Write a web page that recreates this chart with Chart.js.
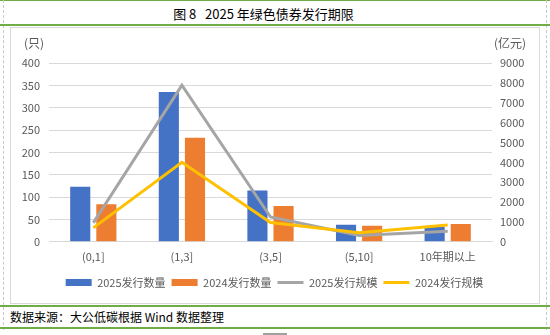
<!DOCTYPE html>
<html>
<head>
<meta charset="utf-8">
<script src="https://cdn.jsdelivr.net/npm/chart.js@4.4.1/dist/chart.umd.min.js"></script>
<style>
  html, body { margin: 0; padding: 0; background: #fff; }
  body { width: 550px; height: 335px; position: relative; overflow: hidden;
         font-family: "Noto Sans CJK SC", "Noto Sans", sans-serif; }
  .abs { position: absolute; }
  .green { background: #70ad47; left: 0; width: 550px; }
  .dash { top: 0; height: 330px; width: 0; border-left: 1px dashed #c8c8c8; }
  #title { left: 0; width: 527px; top: 4px; text-align: center; font-size: 13px; color: #000; }
  #box { left: 10px; top: 27px; width: 528px; height: 275px; border: 1px solid #d9d9d9; }
  #chartWrap { left: 11px; top: 28px; width: 527px; height: 274px; }
  #source { left: 10px; top: 308px; font-size: 12px; color: #000; }
</style>
</head>
<body>
<div class="abs green" style="top:0;height:1px"></div>
<div class="abs dash" style="left:3px"></div>
<div class="abs dash" style="left:546px"></div>
<div class="abs" id="title">图 8&nbsp;&nbsp;&nbsp;2025 年绿色债券发行期限</div>
<div class="abs green" style="top:24px;height:2px"></div>
<div class="abs" id="box"></div>
<div class="abs" id="chartWrap"><canvas id="greenBondChart"></canvas></div>
<div class="abs green" style="top:305px;height:2px"></div>
<div class="abs" id="source">数据来源：大公低碳根据 Wind 数据整理</div>
<div class="abs green" style="top:327px;height:2px"></div>
<div class="abs" style="left:263px;top:333px;width:24px;height:2px;background:#a0a0a0"></div>

<script>
const categories = ['(0,1]', '(1,3]', '(3,5]', '(5,10]', '10年期以上'];
const count2025 = [123, 335, 115, 38, 33];
const count2024 = [84, 233, 80, 36, 40];
const scale2025 = [950, 7880, 1250, 320, 530];
const scale2024 = [700, 4000, 970, 450, 850];
const leftTicksMax = 400;
const rightTicksMax = 9000;

const tickFont = { family: '"Noto Sans CJK SC", "Noto Sans", sans-serif', size: 11 };
const tickColor = '#595959';

// axis unit labels above each y axis
const unitLabels = {
    id: 'unitLabels',
    afterDraw(chart) {
        const ctx = chart.ctx;
        const area = chart.chartArea;
        ctx.save();
        ctx.font = '12px "Noto Sans CJK SC", sans-serif';
        ctx.fillStyle = tickColor;
        ctx.textBaseline = 'middle';
        ctx.textAlign = 'left';
        ctx.fillText('(只)', area.left - 25, 15);
        ctx.textAlign = 'right';
        ctx.fillText('(亿元)', area.right + 34, 15);
        ctx.restore();
    }
};

let greenBondChart;

function renderChart() {
    const ctx = document.getElementById('greenBondChart');
    if (!ctx) return;

    greenBondChart = new Chart(ctx, {
        type: 'bar',
        data: {
            labels: categories,
            datasets: [
                {
                    label: '2025发行数量',
                    data: count2025,
                    backgroundColor: '#4472c4',
                    yAxisID: 'y',
                    pointStyle: 'rect',
                    order: 2
                },
                {
                    label: '2024发行数量',
                    data: count2024,
                    backgroundColor: '#ed7d31',
                    yAxisID: 'y',
                    pointStyle: 'rect',
                    order: 2
                },
                {
                    type: 'line',
                    label: '2025发行规模',
                    data: scale2025,
                    borderColor: '#a5a5a5',
                    backgroundColor: '#a5a5a5',
                    borderWidth: 3,
                    pointRadius: 0,
                    pointStyle: 'line',
                    tension: 0,
                    yAxisID: 'y1',
                    order: 1
                },
                {
                    type: 'line',
                    label: '2024发行规模',
                    data: scale2024,
                    borderColor: '#ffc000',
                    backgroundColor: '#ffc000',
                    borderWidth: 3,
                    pointRadius: 0,
                    pointStyle: 'line',
                    tension: 0,
                    yAxisID: 'y1',
                    order: 0
                }
            ]
        },
        options: {
            responsive: true,
            maintainAspectRatio: false,
            animation: false,
            categoryPercentage: 0.59,
            barPercentage: 0.77,
            layout: { padding: { left: 0, right: 0, top: 35, bottom: 4 } },
            plugins: {
                tooltip: { enabled: false },
                legend: {
                    position: 'bottom',
                    labels: {
                        usePointStyle: true,
                        pointStyleWidth: 26,
                        boxHeight: 7,
                        padding: 6,
                        color: tickColor,
                        font: tickFont,
                        sort: (a, b) => a.datasetIndex - b.datasetIndex
                    }
                }
            },
            scales: {
                x: {
                    grid: { display: false, drawTicks: false },
                    border: { color: '#d9d9d9' },
                    ticks: { color: tickColor, font: tickFont, padding: 8 }
                },
                y: {
                    position: 'left',
                    min: 0,
                    max: leftTicksMax,
                    afterFit: s => { s.width = 38; },
                    ticks: { stepSize: 50, color: tickColor, font: tickFont, padding: 9 },
                    grid: { color: '#d9d9d9', drawTicks: false },
                    border: { display: false }
                },
                y1: {
                    position: 'right',
                    min: 0,
                    max: rightTicksMax,
                    afterFit: s => { s.width = 46; },
                    ticks: {
                        stepSize: 1000, color: tickColor, font: tickFont, padding: 8,
                        callback: v => String(v)
                    },
                    grid: { display: false, drawTicks: false },
                    border: { display: false }
                }
            }
        },
        plugins: [unitLabels]
    });
}

window.addEventListener('DOMContentLoaded', renderChart);
</script>
</body>
</html>
